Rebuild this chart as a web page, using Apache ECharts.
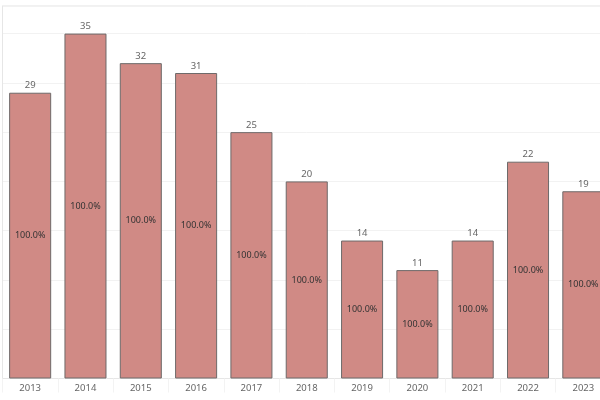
<!DOCTYPE html>
<html><head><meta charset="utf-8">
<script src="https://cdn.jsdelivr.net/npm/echarts@6/dist/echarts.min.js"></script>
<style>html,body{margin:0;padding:0;background:#fff;overflow:hidden;width:600px;height:400px}#c{width:612px;height:400px}</style>
</head><body><div id="c"></div>
<script>
var categories = ['2013','2014','2015','2016','2017','2018','2019','2020','2021','2022','2023'];
var values = [29,35,32,31,25,20,14,11,14,22,19];
var shareLabels = ['100.0%','100.0%','100.0%','100.0%','100.0%','100.0%','100.0%','100.0%','100.0%','100.0%','100.0%'];

var chart = echarts.init(document.getElementById('c'), null, {renderer:'canvas', width:612, height:400});
chart.setOption({
  animation:false,
  textStyle:{fontFamily:'Noto Sans'},
  grid:{left:2.5, right:1, top:6, bottom:21.5, show:true, borderColor:'#e2e2e2', borderWidth:1, containLabel:false},
  xAxis:{type:'category', data:categories,
    axisLine:{show:true, lineStyle:{color:'#e6e6e6'}},
    axisTick:{show:true, alignWithLabel:false, length:14, lineStyle:{color:'#f3f3f3'}},
    axisLabel:{color:'#666', fontSize:9.5, margin:5, fontFamily:'Noto Sans'}},
  yAxis:{type:'value', min:0, max:37.8, interval:5,
    axisLabel:{show:false}, axisTick:{show:false},
    axisLine:{show:true, lineStyle:{color:'#e6e6e6'}},
    splitLine:{lineStyle:{color:'#f2f2f2'}}},
  series:[
    {type:'bar', data:values, barWidth:'76%',
      itemStyle:{color:'#d08a85', borderColor:'#6e6a6a', borderWidth:1},
      label:{show:true, position:'top', distance:2, color:'#666', fontSize:9.5, fontFamily:'Noto Sans'}},
    {type:'bar', data:values, barWidth:'76%', barGap:'-100%', silent:true,
      itemStyle:{color:'rgba(0,0,0,0)'},
      label:{show:true, position:'inside', color:'#333', fontSize:9, fontFamily:'Noto Sans',
        formatter:function(p){return shareLabels[p.dataIndex];}}}
  ]
});
</script></body></html>
